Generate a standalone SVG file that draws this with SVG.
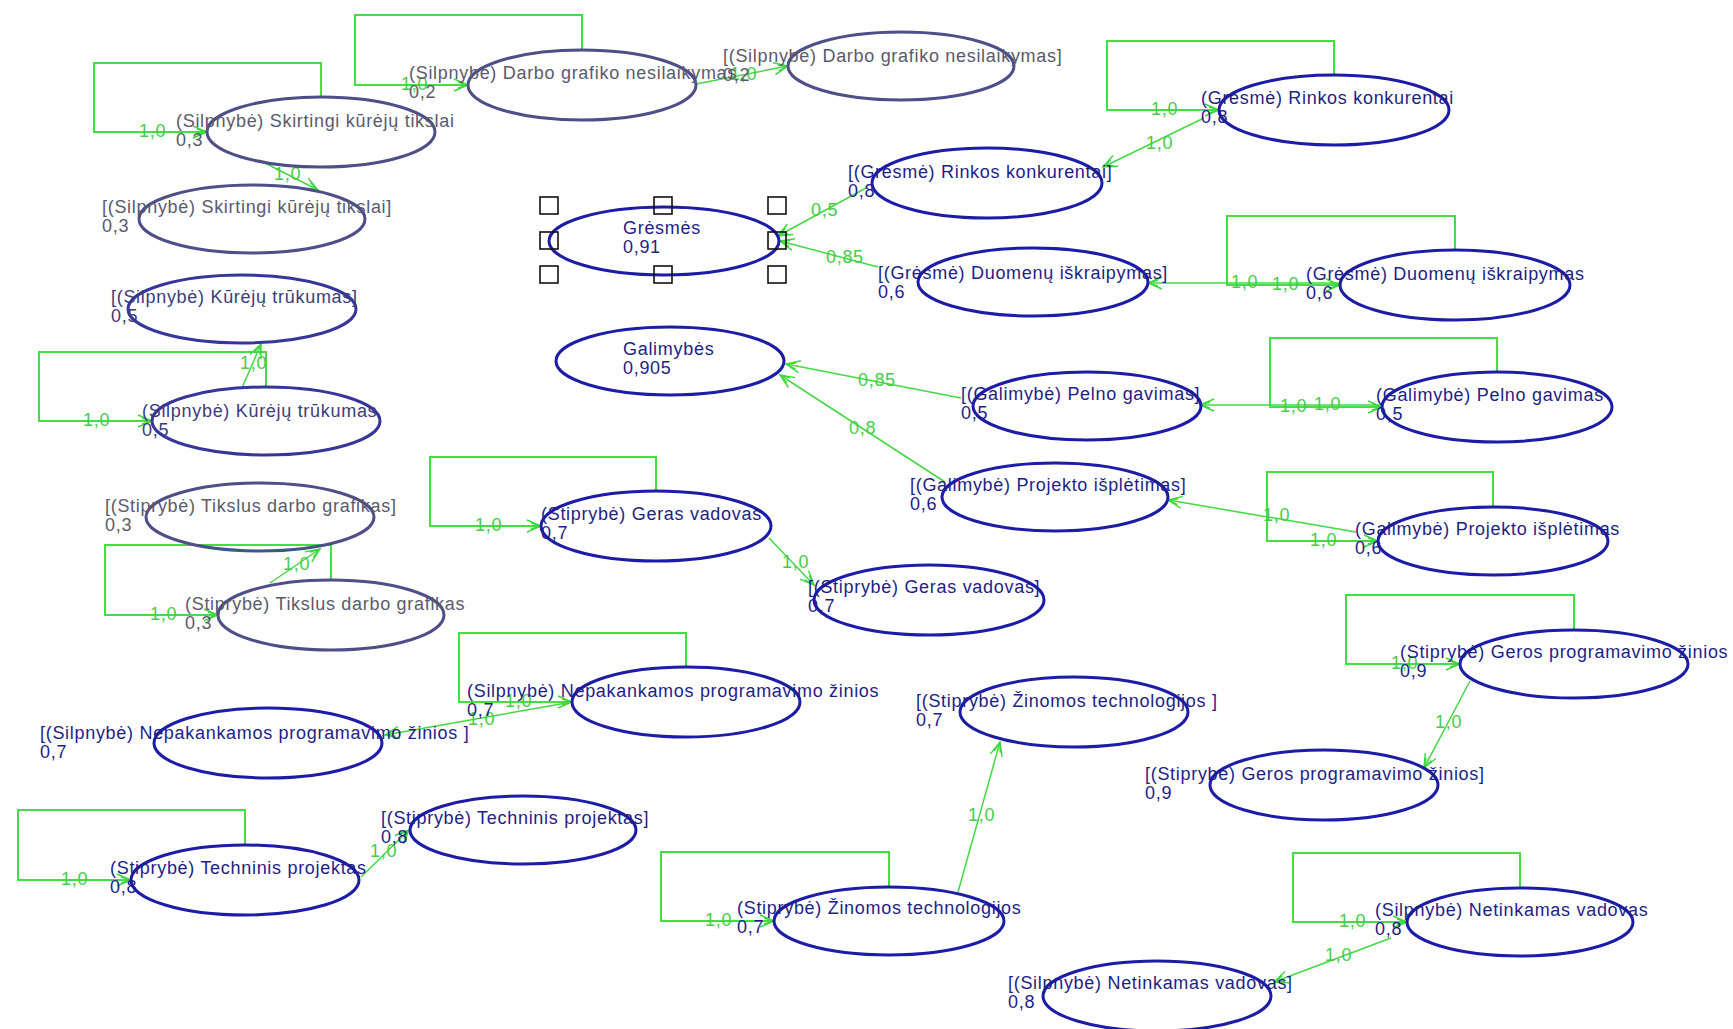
<svg xmlns="http://www.w3.org/2000/svg" width="1733" height="1029" viewBox="0 0 1733 1029">
  <style>
    text { font-family: "Liberation Sans", Arial, sans-serif; font-size: 18px; letter-spacing: 0.7px; }
    .node ellipse { fill: none; stroke-width: 3; }
    .bright ellipse { stroke: #1c1ca6; }
    .bright text { fill: #1e1e86; }
    .mid ellipse { stroke: #36369a; }
    .mid text { fill: #3c3c7a; }
    .faded ellipse { stroke: #4e4e88; }
    .faded text { fill: #5a5a6c; }
    .loop { fill: none; stroke: #44dd44; stroke-width: 2; }
    .edge { fill: none; stroke: #44d844; stroke-width: 1.5; }
    .lbl { fill: #48cc48; }
    .handle { fill: none; stroke: #111111; stroke-width: 1.6; }
  </style>
  <defs>
    <marker id="arr" markerUnits="userSpaceOnUse" markerWidth="16" markerHeight="14" viewBox="0 0 16 14" refX="15" refY="7" orient="auto">
      <path d="M1,1 L15,7 L1,13 M5,4 L15,7 L5,10" fill="none" stroke="#3ad83a" stroke-width="1.4"/>
    </marker>
  </defs>
  <rect x="0" y="0" width="1733" height="1029" fill="#ffffff"/>

  <!-- connectors: self-loops, links and their weights -->
  <g id="connectors">
    <path class="loop" marker-end="url(#arr)" d="M582,50 V15 H355 V85 H468"/>
    <path class="loop" marker-end="url(#arr)" d="M321,97 V63 H94 V132 H207"/>
    <path class="loop" marker-end="url(#arr)" d="M266,387 V352 H39 V421 H152"/>
    <path class="loop" marker-end="url(#arr)" d="M331,580 V545 H105 V615 H218"/>
    <path class="loop" marker-end="url(#arr)" d="M656,491 V457 H430 V526 H541"/>
    <path class="loop" marker-end="url(#arr)" d="M1334,75 V41 H1107 V110 H1219"/>
    <path class="loop" marker-end="url(#arr)" d="M1455,250 V216 H1227 V285 H1340"/>
    <path class="loop" marker-end="url(#arr)" d="M1497,372 V338 H1270 V407 H1382"/>
    <path class="loop" marker-end="url(#arr)" d="M1493,507 V472 H1267 V541 H1378"/>
    <path class="loop" marker-end="url(#arr)" d="M1574,630 V595 H1346 V664 H1460"/>
    <path class="loop" marker-end="url(#arr)" d="M686,667 V633 H459 V702 H572"/>
    <path class="loop" marker-end="url(#arr)" d="M245,845 V810 H18 V880 H131"/>
    <path class="loop" marker-end="url(#arr)" d="M889,887 V852 H661 V921 H774"/>
    <path class="loop" marker-end="url(#arr)" d="M1520,888 V853 H1293 V922 H1407"/>

    <path class="edge" marker-end="url(#arr)" d="M696,84 L788,66"/>
    <path class="edge" marker-end="url(#arr)" d="M259,160 L318,190"/>
    <path class="edge" marker-end="url(#arr)" d="M242,388 L261,344"/>
    <path class="edge" marker-end="url(#arr)" d="M270,583 L320,549"/>
    <path class="edge" marker-end="url(#arr)" d="M769,538 L814,585"/>
    <path class="edge" marker-end="url(#arr)" d="M1204,118 L1103,167"/>
    <path class="edge" marker-end="url(#arr)" d="M866,188 L778,236"/>
    <path class="edge" marker-end="url(#arr)" d="M878,267 L780,241"/>
    <path class="edge" marker-end="url(#arr)" d="M1340,283 L1148,283"/>
    <path class="edge" marker-end="url(#arr)" d="M1382,405 L1200,405"/>
    <path class="edge" marker-end="url(#arr)" d="M961,398 L786,364"/>
    <path class="edge" marker-end="url(#arr)" d="M945,482 L780,375"/>
    <path class="edge" marker-end="url(#arr)" d="M1356,532 L1168,500"/>
    <path class="edge" marker-end="url(#arr)" d="M1470,681 L1424,768"/>
    <path class="edge" marker-end="url(#arr)" d="M572,702 L385,735"/>
    <path class="edge" marker-end="url(#arr)" d="M361,877 L409,830"/>
    <path class="edge" marker-end="url(#arr)" d="M958,892 L1000,742"/>
    <path class="edge" marker-end="url(#arr)" d="M1391,938 L1274,982"/>

    <g class="lbl">
      <text x="401" y="90">1,0</text>
      <text x="139" y="137">1,0</text>
      <text x="83" y="426">1,0</text>
      <text x="150" y="620">1,0</text>
      <text x="475" y="531">1,0</text>
      <text x="1151" y="115">1,0</text>
      <text x="1272" y="290">1,0</text>
      <text x="1280" y="412">1,0</text>
      <text x="1310" y="546">1,0</text>
      <text x="1391" y="669">1,0</text>
      <text x="505" y="707">1,0</text>
      <text x="61" y="885">1,0</text>
      <text x="705" y="926">1,0</text>
      <text x="1339" y="927">1,0</text>

      <text x="730" y="80">1,0</text>
      <text x="274" y="180">1,0</text>
      <text x="240" y="369">1,0</text>
      <text x="283" y="570">1,0</text>
      <text x="782" y="568">1,0</text>
      <text x="1146" y="149">1,0</text>
      <text x="811" y="216">0,5</text>
      <text x="826" y="263">0,85</text>
      <text x="1231" y="288">1,0</text>
      <text x="1314" y="410">1,0</text>
      <text x="858" y="386">0,85</text>
      <text x="849" y="434">0,8</text>
      <text x="1263" y="521">1,0</text>
      <text x="1435" y="728">1,0</text>
      <text x="468" y="725">1,0</text>
      <text x="370" y="857">1,0</text>
      <text x="968" y="821">1,0</text>
      <text x="1325" y="961">1,0</text>
    </g>
  </g>

  <!-- nodes -->
  <g id="darbo-grafiko" class="node faded">
    <ellipse cx="582" cy="85" rx="114" ry="35"/>
    <text x="409" y="79">(Silpnybė) Darbo grafiko nesilaikymas</text>
    <text x="409" y="98">0,2</text>
  </g>
  <g id="darbo-grafiko-out" class="node faded">
    <ellipse cx="901" cy="66" rx="113" ry="34"/>
    <text x="723" y="62">[(Silpnybė) Darbo grafiko nesilaikymas]</text>
    <text x="723" y="81">0,2</text>
  </g>
  <g id="skirtingi-tikslai" class="node faded">
    <ellipse cx="321" cy="132" rx="114" ry="35"/>
    <text x="176" y="127">(Silpnybė) Skirtingi kūrėjų tikslai</text>
    <text x="176" y="146">0,3</text>
  </g>
  <g id="skirtingi-tikslai-out" class="node faded">
    <ellipse cx="252" cy="219" rx="113" ry="34"/>
    <text x="102" y="213">[(Silpnybė) Skirtingi kūrėjų tikslai]</text>
    <text x="102" y="232">0,3</text>
  </g>
  <g id="kureju-trukumas-out" class="node mid">
    <ellipse cx="242" cy="309" rx="114" ry="34"/>
    <text x="111" y="303">[(Silpnybė) Kūrėjų trūkumas]</text>
    <text x="111" y="322">0,5</text>
  </g>
  <g id="kureju-trukumas" class="node mid">
    <ellipse cx="266" cy="421" rx="114" ry="34"/>
    <text x="142" y="417">(Silpnybė) Kūrėjų trūkumas</text>
    <text x="142" y="436">0,5</text>
  </g>
  <g id="tikslus-grafikas-out" class="node faded">
    <ellipse cx="260" cy="517" rx="114" ry="34"/>
    <text x="105" y="512">[(Stiprybė) Tikslus darbo grafikas]</text>
    <text x="105" y="531">0,3</text>
  </g>
  <g id="tikslus-grafikas" class="node faded">
    <ellipse cx="331" cy="615" rx="113" ry="35"/>
    <text x="185" y="610">(Stiprybė) Tikslus darbo grafikas</text>
    <text x="185" y="629">0,3</text>
  </g>
  <g id="geras-vadovas" class="node bright">
    <ellipse cx="656" cy="526" rx="115" ry="35"/>
    <text x="541" y="520">(Stiprybė) Geras vadovas</text>
    <text x="541" y="539">0,7</text>
  </g>
  <g id="geras-vadovas-out" class="node bright">
    <ellipse cx="929" cy="600" rx="115" ry="35"/>
    <text x="808" y="593">[(Stiprybė) Geras vadovas]</text>
    <text x="808" y="612">0,7</text>
  </g>
  <g id="gresmes" class="node bright">
    <ellipse cx="664" cy="241" rx="115" ry="34"/>
    <text x="623" y="234">Grėsmės</text>
    <text x="623" y="253">0,91</text>
    <rect class="handle" x="540" y="197" width="18" height="17"/>
    <rect class="handle" x="654" y="197" width="18" height="17"/>
    <rect class="handle" x="768" y="197" width="18" height="17"/>
    <rect class="handle" x="540" y="232" width="18" height="17"/>
    <rect class="handle" x="768" y="232" width="18" height="17"/>
    <rect class="handle" x="540" y="266" width="18" height="17"/>
    <rect class="handle" x="654" y="266" width="18" height="17"/>
    <rect class="handle" x="768" y="266" width="18" height="17"/>
  </g>
  <g id="galimybes" class="node bright">
    <ellipse cx="670" cy="361" rx="114" ry="34"/>
    <text x="623" y="355">Galimybės</text>
    <text x="623" y="374">0,905</text>
  </g>
  <g id="rinkos-konkurentai-out" class="node bright">
    <ellipse cx="987" cy="183" rx="115" ry="35"/>
    <text x="848" y="178">[(Grėsmė) Rinkos konkurentai]</text>
    <text x="848" y="197">0,8</text>
  </g>
  <g id="rinkos-konkurentai" class="node bright">
    <ellipse cx="1334" cy="110" rx="115" ry="35"/>
    <text x="1201" y="104">(Grėsmė) Rinkos konkurentai</text>
    <text x="1201" y="123">0,8</text>
  </g>
  <g id="duomenu-iskraipymas-out" class="node bright">
    <ellipse cx="1033" cy="282" rx="115" ry="34"/>
    <text x="878" y="279">[(Grėsmė) Duomenų iškraipymas]</text>
    <text x="878" y="298">0,6</text>
  </g>
  <g id="duomenu-iskraipymas" class="node bright">
    <ellipse cx="1455" cy="285" rx="115" ry="35"/>
    <text x="1306" y="280">(Grėsmė) Duomenų iškraipymas</text>
    <text x="1306" y="299">0,6</text>
  </g>
  <g id="pelno-gavimas-out" class="node bright">
    <ellipse cx="1087" cy="406" rx="114" ry="34"/>
    <text x="961" y="400">[(Galimybė) Pelno gavimas]</text>
    <text x="961" y="419">0,5</text>
  </g>
  <g id="pelno-gavimas" class="node bright">
    <ellipse cx="1497" cy="407" rx="115" ry="35"/>
    <text x="1376" y="401">(Galimybė) Pelno gavimas</text>
    <text x="1376" y="420">0,5</text>
  </g>
  <g id="projekto-ispletimas-out" class="node bright">
    <ellipse cx="1055" cy="497" rx="113" ry="34"/>
    <text x="910" y="491">[(Galimybė) Projekto išplėtimas]</text>
    <text x="910" y="510">0,6</text>
  </g>
  <g id="projekto-ispletimas" class="node bright">
    <ellipse cx="1493" cy="541" rx="115" ry="34"/>
    <text x="1355" y="535">(Galimybė) Projekto išplėtimas</text>
    <text x="1355" y="554">0,6</text>
  </g>
  <g id="geros-zinios" class="node bright">
    <ellipse cx="1574" cy="664" rx="114" ry="34"/>
    <text x="1400" y="658">(Stiprybė) Geros programavimo žinios</text>
    <text x="1400" y="677">0,9</text>
  </g>
  <g id="geros-zinios-out" class="node bright">
    <ellipse cx="1324" cy="785" rx="114" ry="35"/>
    <text x="1145" y="780">[(Stiprybė) Geros programavimo žinios]</text>
    <text x="1145" y="799">0,9</text>
  </g>
  <g id="nepakankamos-zinios" class="node bright">
    <ellipse cx="686" cy="702" rx="114" ry="35"/>
    <text x="467" y="697">(Silpnybė) Nepakankamos programavimo žinios</text>
    <text x="467" y="716">0,7</text>
  </g>
  <g id="nepakankamos-zinios-out" class="node bright">
    <ellipse cx="268" cy="743" rx="114" ry="35"/>
    <text x="40" y="739">[(Silpnybė) Nepakankamos programavimo žinios ]</text>
    <text x="40" y="758">0,7</text>
  </g>
  <g id="techninis-projektas" class="node bright">
    <ellipse cx="245" cy="880" rx="114" ry="35"/>
    <text x="110" y="874">(Stiprybė) Techninis projektas</text>
    <text x="110" y="893">0,8</text>
  </g>
  <g id="techninis-projektas-out" class="node bright">
    <ellipse cx="523" cy="830" rx="113" ry="34"/>
    <text x="381" y="824">[(Stiprybė) Techninis projektas]</text>
    <text x="381" y="843">0,8</text>
  </g>
  <g id="zinomos-technologijos" class="node bright">
    <ellipse cx="889" cy="921" rx="115" ry="34"/>
    <text x="737" y="914">(Stiprybė) Žinomos technologijos</text>
    <text x="737" y="933">0,7</text>
  </g>
  <g id="zinomos-technologijos-out" class="node bright">
    <ellipse cx="1074" cy="712" rx="114" ry="35"/>
    <text x="916" y="707">[(Stiprybė) Žinomos technologijos ]</text>
    <text x="916" y="726">0,7</text>
  </g>
  <g id="netinkamas-vadovas" class="node bright">
    <ellipse cx="1520" cy="922" rx="113" ry="34"/>
    <text x="1375" y="916">(Silpnybė) Netinkamas vadovas</text>
    <text x="1375" y="935">0,8</text>
  </g>
  <g id="netinkamas-vadovas-out" class="node bright">
    <ellipse cx="1157" cy="996" rx="114" ry="35"/>
    <text x="1008" y="989">[(Silpnybė) Netinkamas vadovas]</text>
    <text x="1008" y="1008">0,8</text>
  </g>
</svg>
